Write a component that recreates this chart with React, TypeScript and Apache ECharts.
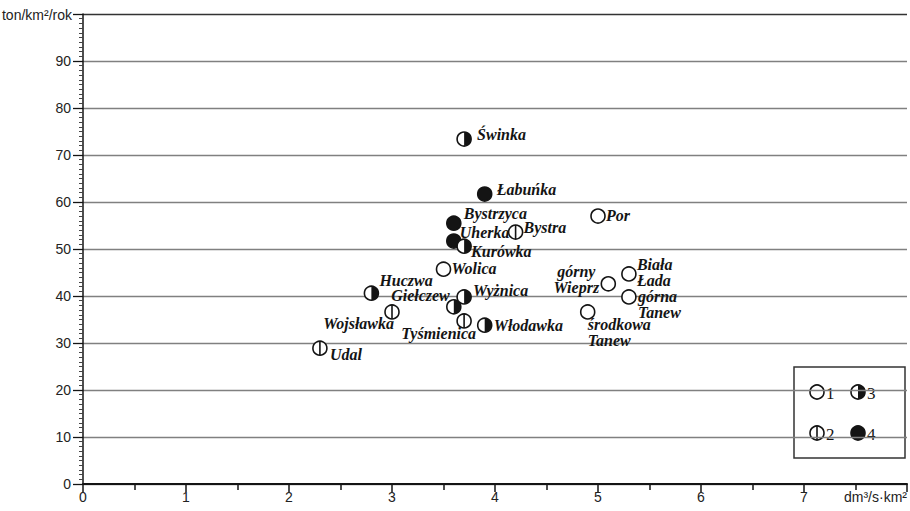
import React, { useEffect, useRef } from "react";
import * as echarts from "echarts";

// ---- data ----
const names = [
  "Świnka", "Łabuńka", "Bystrzyca", "Uherka", "Kurówka", "Bystra", "Por", "Wolica",
  "Huczwa", "Giełczew", "Wyżnica", "Wojsławka", "Tyśmienica", "Włodawka", "Udal",
  "górny\nWieprz", "Biała\nŁada", "górna\nTanew", "środkowa\nTanew",
];
const xValues = [3.7, 3.9, 3.6, 3.6, 3.7, 4.2, 5.0, 3.5, 2.8, 3.6, 3.7, 3.0, 3.7, 3.9, 2.3, 5.1, 5.3, 5.3, 4.9];
const yValues = [73.4, 61.7, 55.5, 51.7, 50.6, 53.6, 57.0, 45.7, 40.6, 37.7, 39.8, 36.6, 34.7, 33.8, 28.9, 42.6, 44.7, 39.8, 36.6];
const types = [3, 4, 4, 4, 3, 2, 1, 1, 3, 3, 3, 2, 2, 3, 2, 1, 1, 1, 1];
const legendTypes = [1, 3, 2, 4];
const xTicks = [0, 1, 2, 3, 4, 5, 6, 7];
const yTicks = [0, 10, 20, 30, 40, 50, 60, 70, 80, 90];

// label placement (layout only): [dx, dy, align]
const labelPlace: Record<string, [number, number, string]> = {
  "Świnka": [13, -5, "left"],
  "Łabuńka": [12, -5, "left"],
  "Bystrzyca": [10, -10, "left"],
  "Uherka": [6, -9, "left"],
  "Kurówka": [7, 5, "left"],
  "Bystra": [8, -5, "left"],
  "Por": [8, -1, "left"],
  "Wolica": [8, -1, "left"],
  "Huczwa": [8, -13, "left"],
  "Giełczew": [-4, -11, "right"],
  "Wyżnica": [9, -6, "left"],
  "Wojsławka": [2, 12, "right"],
  "Tyśmienica": [12, 13, "right"],
  "Włodawka": [9, 0, "left"],
  "Udal": [10, 6, "left"],
  "górny\nWieprz": [-32, -4, "center"],
  "Biała\nŁada": [8, -1, "left"],
  "górna\nTanew": [9, 8, "left"],
  "środkowa\nTanew": [0, 21, "left"],
};

const INK = "#141414";
const R = 7;
const SERIF = "'Liberation Serif', 'Times New Roman', serif";
const SANS = "'Liberation Sans Narrow', 'Liberation Sans', Arial, sans-serif";

function markerChildren(cx: number, cy: number, t: number): any[] {
  const ch: any[] = [];
  ch.push({ type: "circle", shape: { cx, cy, r: R }, style: { fill: t === 4 ? INK : "#fff", stroke: INK, lineWidth: 1.6 } });
  if (t === 3) {
    ch.push({
      type: "sector",
      shape: { cx, cy, r0: 0, r: R, startAngle: -Math.PI / 2, endAngle: Math.PI / 2, clockwise: true },
      style: { fill: INK },
    });
  }
  if (t === 2) {
    ch.push({ type: "line", shape: { x1: cx, y1: cy - R, x2: cx, y2: cy + R }, style: { stroke: INK, lineWidth: 1.6 } });
  }
  return ch;
}

export default function App() {
  const ref = useRef<HTMLDivElement>(null);
  useEffect(() => {
    if (!ref.current) return;
    const chart = echarts.init(ref.current, undefined, { renderer: "svg" });
    const data = names.map((n, i) => [xValues[i], yValues[i], types[i], i]);
    const splitColors = yTicks.map(() => "#808080").concat(["#333"]);
    const legendX = [817, 858];
    const legendY = [392, 433];
    const legendChildren: any[] = [
      { type: "rect", shape: { x: 794, y: 367, width: 111, height: 91 }, style: { fill: "#fff", stroke: "#333", lineWidth: 1.5 } },
    ];
    legendTypes.forEach((t, k) => {
      const cx = legendX[k % 2];
      const cy = legendY[Math.floor(k / 2)];
      legendChildren.push(...markerChildren(cx, cy, t));
      legendChildren.push({
        type: "text",
        x: cx + 9,
        y: cy + 1,
        style: { text: String(t), fontSize: 17, fontFamily: SERIF, fill: INK, align: "left", verticalAlign: "middle" },
      });
    });

    chart.setOption({
      animation: false,
      backgroundColor: "#fff",
      grid: { left: 83, right: 0, top: 14, bottom: 27, containLabel: false },
      xAxis: {
        type: "value",
        min: 0,
        max: 8,
        interval: 1,
        axisLine: { show: true, onZero: false, lineStyle: { color: INK, width: 2 } },
        axisTick: { show: true, length: 8, lineStyle: { color: INK, width: 1.5 } },
        minorTick: { show: true, splitNumber: 2, length: 6, lineStyle: { color: INK, width: 1.5 } },
        splitLine: { show: false },
        axisLabel: {
          margin: 6,
          color: "#222",
          fontSize: 14,
          fontFamily: SANS,
          formatter: (v: number) => (xTicks.indexOf(v) >= 0 ? String(v) : ""),
        },
      },
      yAxis: {
        type: "value",
        min: 0,
        max: 100,
        interval: 10,
        axisLine: { show: true, lineStyle: { color: INK, width: 1.5 } },
        axisTick: { show: true, length: 10, lineStyle: { color: INK, width: 1.3 } },
        minorTick: { show: true, splitNumber: 10, length: 4, lineStyle: { color: "#444", width: 1 } },
        splitLine: { show: true, lineStyle: { color: splitColors, width: 1.3 } },
        axisLabel: {
          margin: 12,
          color: "#222",
          fontSize: 14,
          fontFamily: SANS,
          formatter: (v: number) => (yTicks.indexOf(v) >= 0 ? String(v) : ""),
        },
      },
      graphic: [
        {
          type: "text",
          x: 72,
          y: 15,
          style: { text: "ton/km²/rok", fontSize: 14, fontFamily: SANS, fill: "#222", align: "right", verticalAlign: "middle" },
        },
        {
          type: "text",
          x: 907,
          y: 497,
          style: { text: "dm³/s·km²", fontSize: 14, fontFamily: SANS, fill: "#222", align: "right", verticalAlign: "middle" },
        },
        { type: "group", children: legendChildren, z: 100 },
      ],
      series: [
        {
          type: "custom",
          coordinateSystem: "cartesian2d",
          data,
          clip: false,
          renderItem: (params: any, api: any) => {
            const i = api.value(3);
            const pt = api.coord([api.value(0), api.value(1)]);
            const cx = pt[0];
            const cy = pt[1];
            const t = api.value(2);
            const name = names[i];
            const pl = labelPlace[name] || [8, 0, "left"];
            const children = markerChildren(cx, cy, t);
            children.push({
              type: "text",
              x: cx + pl[0],
              y: cy + pl[1],
              style: {
                text: name,
                fontSize: 16,
                fontStyle: "italic",
                fontWeight: "bold",
                fontFamily: SERIF,
                fill: INK,
                align: pl[2],
                verticalAlign: "middle",
                lineHeight: 16,
              },
            });
            return { type: "group", children };
          },
        },
      ],
    });
    return () => chart.dispose();
  }, []);
  return <div ref={ref} style={{ width: 910, height: 511, position: "absolute", left: 0, top: 0 }} />;
}
